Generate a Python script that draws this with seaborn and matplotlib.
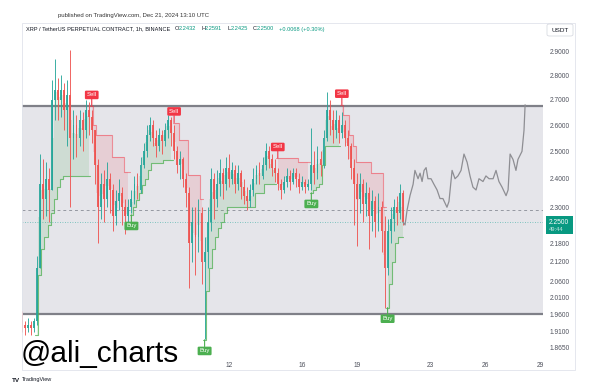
import numpy as np
import pandas as pd
import matplotlib
matplotlib.use("Agg")
import matplotlib.pyplot as plt
import matplotlib.patches as mpatches
from matplotlib.ticker import NullLocator
import seaborn as sns

# XRP/USDT perp at 4h resolution (Nov 30 16:00 -> Dec 21 12:00)
start = "2024-11-30 16:00"
open0 = 1.96
close = [1.93, 1.92, 1.93, 1.92, 1.94, 2.10, 2.38, 2.33, 2.40, 2.36,
         2.70, 2.74, 2.70, 2.74, 2.66, 2.72, 2.55, 2.60, 2.55, 2.62,
         2.58, 2.66, 2.63, 2.58, 2.45, 2.30, 2.38, 2.33, 2.40, 2.36,
         2.27, 2.32, 2.35, 2.30, 2.27, 2.30, 2.33, 2.38, 2.36, 2.45,
         2.50, 2.56, 2.60, 2.55, 2.52, 2.56, 2.54, 2.58, 2.62, 2.57,
         2.50, 2.45, 2.47, 2.40, 2.35, 2.18, 2.25, 2.20, 2.28, 2.12,
         2.15, 2.25, 2.40, 2.33, 2.38, 2.42, 2.38, 2.44, 2.40, 2.43,
         2.38, 2.42, 2.37, 2.34, 2.32, 2.36, 2.40, 2.43, 2.41, 2.45,
         2.50, 2.47, 2.44, 2.42, 2.38, 2.36, 2.39, 2.41, 2.39, 2.42,
         2.40, 2.37, 2.39, 2.37, 2.38, 2.45, 2.42, 2.47, 2.45, 2.55,
         2.66, 2.62, 2.58, 2.62, 2.57, 2.60, 2.55, 2.52, 2.44, 2.38,
         2.33, 2.38, 2.31, 2.35, 2.27, 2.32, 2.25, 2.30, 2.22, 2.10,
         2.22, 2.26, 2.30, 2.28, 2.35, 2.25]
high = [1.97, 1.94, 1.95, 1.94, 1.95, 2.14, 2.49, 2.47, 2.46, 2.44,
        2.78, 2.87, 2.79, 2.80, 2.77, 2.78, 2.91, 2.66, 2.64, 2.66,
        2.65, 2.70, 2.69, 2.66, 2.58, 2.47, 2.42, 2.43, 2.46, 2.42,
        2.38, 2.36, 2.40, 2.37, 2.33, 2.33, 2.36, 2.41, 2.42, 2.48,
        2.53, 2.60, 2.63, 2.62, 2.58, 2.59, 2.58, 2.61, 2.64, 2.63,
        2.60, 2.52, 2.50, 2.48, 2.42, 2.37, 2.30, 2.30, 2.33, 2.30,
        2.20, 2.30, 2.44, 2.42, 2.43, 2.47, 2.44, 2.48, 2.49, 2.46,
        2.45, 2.45, 2.43, 2.40, 2.37, 2.38, 2.44, 2.45, 2.46, 2.48,
        2.53, 2.52, 2.49, 2.47, 2.44, 2.40, 2.41, 2.44, 2.43, 2.44,
        2.44, 2.42, 2.41, 2.40, 2.40, 2.59, 2.50, 2.52, 2.50, 2.58,
        2.73, 2.70, 2.66, 2.66, 2.64, 2.65, 2.62, 2.58, 2.53, 2.47,
        2.42, 2.42, 2.40, 2.39, 2.37, 2.36, 2.34, 2.35, 2.32, 2.27,
        2.26, 2.30, 2.33, 2.34, 2.38, 2.36]
low = [1.91, 1.90, 1.91, 1.90, 1.91, 1.93, 2.10, 2.26, 2.27, 2.25,
       2.36, 2.62, 2.62, 2.63, 2.58, 2.52, 2.30, 2.47, 2.48, 2.52,
       2.50, 2.55, 2.56, 2.53, 2.38, 2.18, 2.26, 2.25, 2.30, 2.28,
       2.22, 2.24, 2.29, 2.24, 2.21, 2.23, 2.28, 2.31, 2.33, 2.35,
       2.44, 2.48, 2.54, 2.52, 2.48, 2.50, 2.49, 2.52, 2.55, 2.52,
       2.47, 2.42, 2.40, 2.37, 2.30, 2.04, 2.12, 2.08, 2.15, 2.05,
       1.89, 2.10, 2.22, 2.26, 2.30, 2.34, 2.33, 2.36, 2.37, 2.38,
       2.35, 2.36, 2.33, 2.31, 2.29, 2.30, 2.34, 2.38, 2.38, 2.40,
       2.43, 2.44, 2.41, 2.39, 2.36, 2.33, 2.35, 2.37, 2.36, 2.38,
       2.37, 2.35, 2.36, 2.35, 2.36, 2.36, 2.38, 2.40, 2.41, 2.44,
       2.54, 2.56, 2.53, 2.55, 2.53, 2.55, 2.52, 2.47, 2.40, 2.24,
       2.17, 2.28, 2.25, 2.27, 2.16, 2.22, 2.20, 2.22, 2.15, 1.98,
       2.08, 2.18, 2.22, 2.24, 2.26, 2.24]

# supertrend level as drawn on the chart (nan = not shown yet)
supertrend = [np.nan, np.nan, np.nan, np.nan, np.nan, 1.90, 2.08, 2.16, 2.20, 2.24,
              2.28, 2.33, 2.37, 2.40, 2.41, 2.41, 2.41, 2.41, 2.41, 2.41,
              2.41, 2.41, 2.41, 2.675, 2.60, 2.562, 2.562, 2.562, 2.562, 2.562,
              2.48, 2.48, 2.48, 2.48, 2.425, 2.425, 2.274, 2.30, 2.325, 2.35,
              2.378, 2.40, 2.432, 2.457, 2.457, 2.457, 2.457, 2.468, 2.468, 2.468,
              2.61, 2.61, 2.543, 2.543, 2.543, 2.414, 2.414, 2.414, 2.414, 2.33,
              1.887, 2.03, 2.10, 2.16, 2.20, 2.23, 2.25, 2.28, 2.30, 2.30,
              2.30, 2.30, 2.30, 2.30, 2.30, 2.30, 2.30, 2.35, 2.35, 2.35,
              2.38, 2.38, 2.38, 2.38, 2.475, 2.475, 2.475, 2.475, 2.475, 2.475,
              2.475, 2.46, 2.46, 2.46, 2.46, 2.35, 2.36, 2.37, 2.38, 2.45,
              2.52, 2.52, 2.52, 2.52, 2.52, 2.68, 2.64, 2.64, 2.56, 2.52,
              2.46, 2.46, 2.46, 2.46, 2.46, 2.42, 2.42, 2.42, 2.42, 2.30,
              1.98, 2.05, 2.12, 2.18, 2.20, 2.20]
trend_start = 5
buy_idx = [36, 60, 95, 120]
sell_idx = [23, 50, 84, 105]

# grey projected path (day of month, price)
proj_day = [21.51, 21.62, 21.73, 21.89, 22.06, 22.16, 22.33, 22.44, 22.55, 22.66,
            22.77, 22.87, 23.04, 23.20, 23.37, 23.53, 23.69, 23.91, 24.02, 24.19,
            24.35, 24.51, 24.68, 24.84, 25.01, 25.17, 25.33, 25.50, 25.66, 25.88,
            26.04, 26.21, 26.43, 26.59, 26.75, 26.92, 27.14, 27.25, 27.36, 27.52,
            27.68, 27.79, 28.01, 28.12, 28.18]
proj_price = [2.25, 2.24, 2.29, 2.34, 2.38, 2.43, 2.40, 2.42, 2.39, 2.43,
              2.44, 2.40, 2.40, 2.38, 2.36, 2.33, 2.33, 2.30, 2.32, 2.43,
              2.40, 2.41, 2.43, 2.49, 2.46, 2.41, 2.37, 2.36, 2.40, 2.39,
              2.41, 2.40, 2.40, 2.43, 2.39, 2.37, 2.34, 2.36, 2.49, 2.47,
              2.43, 2.47, 2.50, 2.58, 2.68]

box_top = 2.675
box_bottom = 1.961
dash_level = 2.291
last_price = 2.25
yticks = [2.9, 2.8, 2.7, 2.6, 2.5, 2.4, 2.3, 2.18, 2.12, 2.06, 2.01, 1.96, 1.91, 1.865]
xticks = [12, 16, 19, 23, 26, 29]

UP, DOWN = "#26a69a", "#ef5350"
GREEN, RED = "#4caf50", "#f23645"
W, H = 594, 391


def fx(x):
    return x / W


def fy(y):
    return 1 - y / H


sns.set_theme(style="white")
plt.rcParams["font.family"] = ["Liberation Sans", "DejaVu Sans"]

times = pd.date_range(start, periods=len(close), freq="4h")
day = ((times - pd.Timestamp("2024-11-30")) / pd.Timedelta("1D")).to_numpy()
c = np.array(close)
o = np.r_[open0, c[:-1]]
hi = np.maximum(np.array(high), np.maximum(o, c))
lo = np.minimum(np.array(low), np.minimum(o, c))
mid = (o + hi + lo + c) / 4
st = np.array(supertrend, dtype=float)

trend = np.full(len(c), np.nan)
events = sorted([(trend_start, 1)] + [(i, 1) for i in buy_idx] + [(i, -1) for i in sell_idx])
for i, s in events:
    trend[i:] = s
st_up = np.where(trend == 1, st, np.nan)
st_dn = np.where(trend == -1, st, np.nan)

fig = plt.figure(figsize=(W / 100, H / 100), dpi=100)
ax = fig.add_axes([fx(22), fy(356), fx(543) - fx(22), fy(23) - fy(356)])
ax.set_yscale("log")
ax.set_xlim(0.689, 29.158)
ax.set_ylim(1.842, 3.028)

# range box
ax.axhspan(box_bottom, box_top, color="#e5e5ea", zorder=0, lw=0)
ax.axhline(box_top, color="#7f8088", lw=1.6, zorder=1)
ax.axhline(box_bottom, color="#7f8088", lw=1.6, zorder=1)
ax.axhline(dash_level, color="#9598a1", lw=0.7, ls=(0, (3, 3)), zorder=1)
ax.axhline(last_price, color=UP, lw=0.6, ls=(0, (1, 2)), alpha=0.7, zorder=1)

# supertrend fills + lines
ax.fill_between(day, st_up, mid, where=~np.isnan(st_up), step="mid",
                color=GREEN, alpha=0.15, lw=0, zorder=1.5)
ax.fill_between(day, st_dn, mid, where=~np.isnan(st_dn), step="mid",
                color=RED, alpha=0.13, lw=0, zorder=1.5)
ax.plot(day, st_up, drawstyle="steps-mid", color=GREEN, lw=0.8, alpha=0.75, zorder=2)
ax.plot(day, st_dn, drawstyle="steps-mid", color=RED, lw=0.8, alpha=0.5, zorder=2)

# candles
cols = np.where(c >= o, UP, DOWN)
ax.vlines(day, lo, hi, colors=cols, lw=0.7, alpha=0.9, zorder=3)
ax.bar(day, np.abs(c - o), bottom=np.minimum(o, c), width=0.1, color=cols,
       alpha=0.9, lw=0, zorder=3)

# projection
sns.lineplot(x=proj_day, y=proj_price, color="#8e8e93", lw=0.9, ax=ax, zorder=3)

# buy / sell labels
for i in sell_idx:
    ax.annotate("Sell", xy=(day[i], st[i]), xytext=(0, 8), textcoords="offset points",
                ha="center", va="center", fontsize=4.3, color="white", zorder=5,
                bbox=dict(boxstyle="round,pad=0.3,rounding_size=0.2", fc=RED, ec="none"),
                arrowprops=dict(arrowstyle="-", color=RED, lw=0.8, shrinkA=0, shrinkB=0))
for i in buy_idx:
    ax.annotate("Buy", xy=(day[i], st[i]), xytext=(0, -8), textcoords="offset points",
                ha="center", va="center", fontsize=4.3, color="white", zorder=5,
                bbox=dict(boxstyle="round,pad=0.3,rounding_size=0.2", fc=GREEN, ec="none"),
                arrowprops=dict(arrowstyle="-", color=GREEN, lw=0.8, shrinkA=0, shrinkB=0))

# axes styling
for s in ax.spines.values():
    s.set_visible(False)
ax.yaxis.tick_right()
ax.set_yticks(yticks, [f"{v:.4f}" for v in yticks])
ax.yaxis.set_minor_locator(NullLocator())
ax.set_xticks(xticks, [str(v) for v in xticks])
ax.tick_params(axis="y", length=0, pad=4.5, labelsize=4.8, labelcolor="#50535e")
ax.tick_params(axis="x", length=0, pad=4, labelsize=4.8, labelcolor="#50535e")
ax.set_xlabel("")
ax.set_ylabel("")
ax.grid(False)

# outer frame
fig.patches.append(mpatches.Rectangle((fx(22), fy(370)), fx(575) - fx(22), fy(23) - fy(370),
                                      transform=fig.transFigure, fill=False,
                                      ec="#e0e3eb", lw=0.6))

# current price tag
fig.patches.append(mpatches.Rectangle((fx(546), fy(234)), fx(573) - fx(546), fy(216) - fy(234),
                                      transform=fig.transFigure, fc="#089981", ec="none"))
fig.text(fx(549), fy(222), "2.2500", color="white", fontsize=4.8, va="center")
fig.text(fx(549), fy(229.5), "49:44", color="white", alpha=0.75, fontsize=4.2, va="center")

# USDT box
fig.patches.append(mpatches.FancyBboxPatch((fx(547), fy(36)), fx(573) - fx(547), fy(24) - fy(36),
                                           boxstyle="round,pad=0,rounding_size=0.004",
                                           transform=fig.transFigure, fc="white",
                                           ec="#d1d4dc", lw=0.5))
fig.text(fx(560), fy(30), "USDT", ha="center", va="center", fontsize=4.6, color="#131722")

# header texts
fig.text(fx(58), fy(16), "published on TradingView.com, Dec 21, 2024 13:10 UTC",
         fontsize=4.3, color="#333333", va="center")
prev = fig.text(fx(26), fy(29), "XRP / TetherUS PERPETUAL CONTRACT, 1h, BINANCE",
                fontsize=4.1, color="#131722", va="center")
pieces = [("O", "#131722", 3), ("2.2432", "#089981", 0), ("H", "#131722", 3.5),
          ("2.2591", "#089981", 0), ("L", "#131722", 3.5), ("2.2425", "#089981", 0),
          ("C", "#131722", 3.5), ("2.2500", "#089981", 0), ("+0.0068 (+0.30%)", "#089981", 3.5)]
for txt, col, gap in pieces:
    prev = ax.annotate(txt, xy=(1, 0.5), xycoords=prev, xytext=(gap, 0),
                       textcoords="offset points", va="center", ha="left",
                       fontsize=4.1, color=col, annotation_clip=False)

fig.text(fx(21), fy(362), "@ali_charts", fontsize=21.5, color="black", va="baseline")
fig.text(fx(12), fy(380), "TV", fontsize=4.6, fontweight="bold", color="#131722", va="center")
fig.text(fx(22), fy(380), "TradingView", fontsize=4.0, color="#131722", va="center")

fig.savefig("out.png", dpi=100)
